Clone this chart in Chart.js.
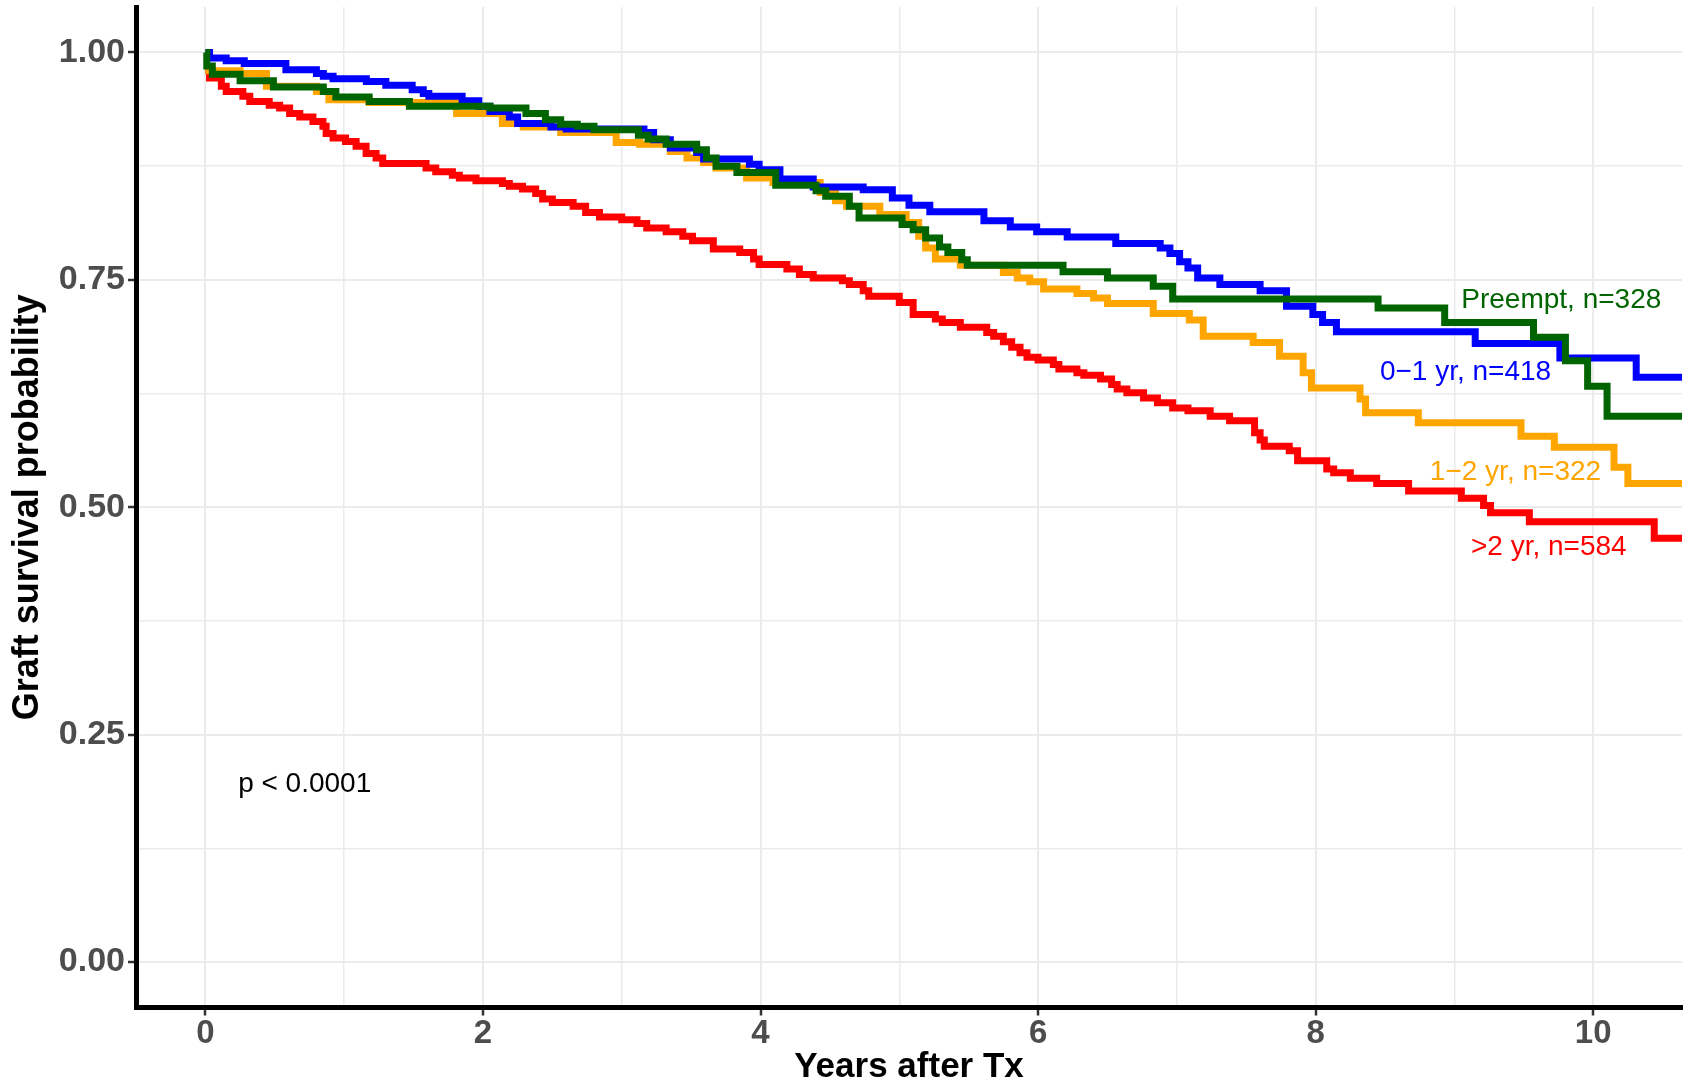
<!DOCTYPE html>
<html>
<head>
<meta charset="utf-8">
<script src="https://cdn.jsdelivr.net/npm/chart.js@4.4.1/dist/chart.umd.min.js"></script>
<style>
  html, body { margin: 0; padding: 0; background: #fff; }
  #wrap { width: 1687px; height: 1085px; }
</style>
</head>
<body>
<div id="wrap"><canvas id="km" width="1687" height="1085"></canvas></div>
<script>
// Kaplan-Meier steps: time of each drop (years) and survival after it
const preemptTime = [0, 0.01, 0.05, 0.25, 0.49, 0.85, 0.94, 1.18, 1.47, 2.05,
  2.31, 2.45, 2.56, 2.68, 2.80, 3.12, 3.19, 3.32, 3.54, 3.61,
  3.68, 3.83, 4.11, 4.40, 4.47, 4.64, 4.71, 5.02, 5.10, 5.19,
  5.29, 5.35, 5.45, 5.49, 6.18, 6.50, 6.83, 6.97, 8.45, 8.93,
  9.57, 9.80, 9.96, 10.10, 10.64];
const preemptSurv = [1.0, 0.985, 0.976, 0.969, 0.962, 0.957, 0.951, 0.946, 0.941, 0.939,
  0.933, 0.926, 0.921, 0.919, 0.915, 0.909, 0.905, 0.899, 0.893, 0.884,
  0.875, 0.868, 0.854, 0.848, 0.842, 0.831, 0.818, 0.811, 0.805, 0.796,
  0.786, 0.780, 0.772, 0.766, 0.759, 0.752, 0.743, 0.729, 0.719, 0.703,
  0.687, 0.661, 0.633, 0.600, 0.600];

const yr01Time = [0, 0.03, 0.15, 0.28, 0.58, 0.80, 0.85, 0.92, 1.16, 1.30,
  1.49, 1.57, 1.61, 1.85, 1.97, 2.05, 2.19, 2.25, 2.49, 2.60,
  3.16, 3.23, 3.35, 3.54, 3.59, 3.92, 3.99, 4.14, 4.38, 4.74,
  4.95, 5.07, 5.22, 5.61, 5.80, 5.99, 6.21, 6.56, 6.88, 6.95,
  7.02, 7.08, 7.15, 7.31, 7.60, 7.79, 7.98, 8.05, 8.15, 9.15,
  9.76, 10.31, 10.64];
const yr01Surv = [1.0, 0.994, 0.991, 0.988, 0.981, 0.977, 0.974, 0.971, 0.968, 0.964,
  0.959, 0.955, 0.952, 0.947, 0.941, 0.935, 0.929, 0.922, 0.918, 0.916,
  0.912, 0.904, 0.895, 0.890, 0.883, 0.877, 0.871, 0.861, 0.852, 0.849,
  0.840, 0.832, 0.825, 0.815, 0.808, 0.803, 0.797, 0.790, 0.785, 0.779,
  0.770, 0.763, 0.752, 0.745, 0.738, 0.721, 0.712, 0.703, 0.693, 0.680,
  0.664, 0.643, 0.643];

const yr12Time = [0, 0.25, 0.44, 0.80, 0.89, 1.18, 1.81, 2.14, 2.29, 2.56,
  2.96, 3.13, 3.35, 3.47, 3.59, 3.68, 3.90, 4.09, 4.43, 4.54,
  4.62, 4.86, 5.05, 5.14, 5.19, 5.26, 5.44, 5.75, 5.85, 5.94,
  6.04, 6.28, 6.40, 6.50, 6.83, 7.09, 7.19, 7.55, 7.74, 7.91,
  7.97, 8.32, 8.36, 8.74, 9.48, 9.72, 10.15, 10.25, 10.64];
const yr12Surv = [0.980, 0.977, 0.963, 0.957, 0.948, 0.945, 0.933, 0.922, 0.918, 0.912,
  0.901, 0.899, 0.891, 0.884, 0.879, 0.873, 0.862, 0.857, 0.846, 0.837,
  0.831, 0.822, 0.813, 0.798, 0.785, 0.773, 0.766, 0.758, 0.752, 0.748,
  0.740, 0.735, 0.730, 0.724, 0.713, 0.706, 0.688, 0.681, 0.666, 0.648,
  0.631, 0.619, 0.604, 0.593, 0.578, 0.566, 0.544, 0.526, 0.526];

const yr2pTime = [0, 0.03, 0.115, 0.15, 0.27, 0.32, 0.46, 0.535, 0.607, 0.68,
  0.775, 0.847, 0.87, 0.92, 1.01, 1.086, 1.158, 1.23, 1.278, 1.59,
  1.66, 1.78, 1.83, 1.95, 2.14, 2.19, 2.285, 2.38, 2.43, 2.50,
  2.65, 2.74, 2.84, 3.0, 3.11, 3.18, 3.32, 3.44, 3.51, 3.66,
  3.85, 3.95, 3.99, 4.19, 4.28, 4.38, 4.59, 4.64, 4.74, 4.78,
  5.0, 5.10, 5.26, 5.31, 5.44, 5.63, 5.68, 5.75, 5.81, 5.87,
  5.92, 6.0, 6.11, 6.15, 6.28, 6.33, 6.45, 6.53, 6.57, 6.64,
  6.76, 6.86, 6.97, 7.08, 7.24, 7.38, 7.56, 7.60, 7.63, 7.81,
  7.87, 8.08, 8.13, 8.25, 8.44, 8.67, 9.05, 9.21, 9.26, 9.54,
  10.44, 10.64];
const yr2pSurv = [0.980, 0.972, 0.963, 0.957, 0.952, 0.946, 0.942, 0.939, 0.933, 0.929,
  0.924, 0.919, 0.911, 0.906, 0.902, 0.897, 0.889, 0.884, 0.878, 0.873,
  0.869, 0.865, 0.862, 0.859, 0.856, 0.853, 0.850, 0.845, 0.839, 0.835,
  0.831, 0.824, 0.819, 0.816, 0.812, 0.807, 0.803, 0.798, 0.793, 0.784,
  0.780, 0.773, 0.767, 0.762, 0.756, 0.752, 0.749, 0.745, 0.738, 0.732,
  0.725, 0.712, 0.707, 0.703, 0.698, 0.692, 0.688, 0.682, 0.676, 0.670,
  0.665, 0.662, 0.657, 0.652, 0.648, 0.645, 0.641, 0.635, 0.630, 0.626,
  0.620, 0.615, 0.609, 0.606, 0.600, 0.595, 0.582, 0.574, 0.567, 0.562,
  0.551, 0.542, 0.538, 0.532, 0.526, 0.518, 0.510, 0.502, 0.494, 0.484,
  0.466, 0.466];

const groupNames = ['Preempt, n=328', '0\u22121 yr, n=418', '1\u22122 yr, n=322', '>2 yr, n=584'];
const groupColors = ['#006400', '#0000FF', '#FFA500', '#FF0000'];

const xTicks = [0, 1, 2, 3, 4, 5, 6, 7, 8, 9, 10];
const yTicks = [0, 0.125, 0.25, 0.375, 0.5, 0.625, 0.75, 0.875, 1];

// where the in-plot texts sit, in data units (left/centre x, baseline y)
const textSpots = [
  { text: groupNames[0], x: 9.77, y: 0.719, align: 'center', color: groupColors[0] },
  { text: groupNames[1], x: 9.08, y: 0.640, align: 'center', color: groupColors[1] },
  { text: groupNames[2], x: 9.44, y: 0.530, align: 'center', color: groupColors[2] },
  { text: groupNames[3], x: 9.68, y: 0.448, align: 'center', color: groupColors[3] },
  { text: 'p < 0.0001', x: 0.236, y: 0.187, align: 'left', color: '#000000' }
];

const FONT = '"Liberation Sans", Arial, Helvetica, sans-serif';
Chart.defaults.font.family = FONT;

const toPoints = (t, s) => t.map((v, i) => ({ x: v, y: s[i] }));
const series = [
  [preemptTime, preemptSurv],
  [yr01Time, yr01Surv],
  [yr12Time, yr12Surv],
  [yr2pTime, yr2pSurv]
];

const datasets = series.map(([t, s], i) => ({
  label: groupNames[i],
  data: toPoints(t, s),
  borderColor: groupColors[i],
  backgroundColor: groupColors[i],
  borderWidth: 7,
  stepped: true,
  pointRadius: 0,
  borderCapStyle: 'butt',
  borderJoinStyle: 'miter',
  fill: false,
  order: i
}));

const isMajorX = v => Math.abs(v % 2) < 1e-9;
const isMajorY = v => Math.abs(v * 4 - Math.round(v * 4)) < 1e-9;

const textPlugin = {
  id: 'kmText',
  afterDatasetsDraw(chart) {
    const { ctx, scales: { x, y } } = chart;
    ctx.save();
    ctx.font = '28px ' + FONT;
    ctx.textBaseline = 'alphabetic';
    textSpots.forEach(s => {
      ctx.fillStyle = s.color;
      ctx.textAlign = s.align;
      ctx.fillText(s.text, x.getPixelForValue(s.x), y.getPixelForValue(s.y));
    });
    ctx.restore();
  }
};

new Chart(document.getElementById('km'), {
  type: 'line',
  data: { datasets },
  options: {
    responsive: false,
    animation: false,
    devicePixelRatio: 1,
    layout: { padding: { top: 7, right: 5, bottom: 0, left: 0 } },
    plugins: {
      legend: { display: false },
      tooltip: { enabled: false }
    },
    scales: {
      x: {
        type: 'linear',
        min: -0.5,
        max: 10.64,
        afterBuildTicks: s => { s.ticks = xTicks.map(v => ({ value: v })); },
        afterFit: s => { s.height = 77.5; s.paddingLeft = 0; s.paddingRight = 0; },
        ticks: {
          autoSkip: false,
          maxRotation: 0,
          minRotation: 0,
          padding: 2,
          color: '#4D4D4D',
          font: { size: 33, weight: 'bold', lineHeight: 1 },
          callback: v => (isMajorX(v) ? String(v) : '')
        },
        grid: {
          color: '#EBEBEB',
          lineWidth: c => (c.tick && isMajorX(c.tick.value) ? 2 : 1.5),
          tickLength: 8,
          tickWidth: 2.5,
          tickColor: c => (c.tick && isMajorX(c.tick.value) ? '#333333' : 'rgba(0,0,0,0)')
        },
        border: { display: true, color: '#000000', width: 5 },
        title: {
          display: true,
          text: 'Years after Tx',
          color: '#000000',
          font: { size: 35, weight: 'bold', lineHeight: 1 },
          padding: { top: 0, bottom: 0 }
        }
      },
      y: {
        type: 'linear',
        min: -0.05,
        max: 1.05,
        afterBuildTicks: s => { s.ticks = yTicks.map(v => ({ value: v })); },
        afterFit: s => { s.width = 136; s.paddingTop = 0; s.paddingBottom = 0; },
        ticks: {
          padding: 3,
          color: '#4D4D4D',
          font: { size: 34, weight: 'bold', lineHeight: 1 },
          callback: v => (isMajorY(v) ? v.toFixed(2) : '')
        },
        grid: {
          color: '#EBEBEB',
          lineWidth: c => (c.tick && isMajorY(c.tick.value) ? 2 : 1.5),
          tickLength: 8,
          tickWidth: 2.5,
          tickColor: c => (c.tick && isMajorY(c.tick.value) ? '#333333' : 'rgba(0,0,0,0)')
        },
        border: { display: true, color: '#000000', width: 5 },
        title: {
          display: true,
          text: 'Graft survival probability',
          color: '#000000',
          font: { size: 36, weight: 'bold', lineHeight: 1 },
          padding: { top: 10, bottom: 0 }
        }
      }
    }
  },
  plugins: [textPlugin]
});
</script>
</body>
</html>
